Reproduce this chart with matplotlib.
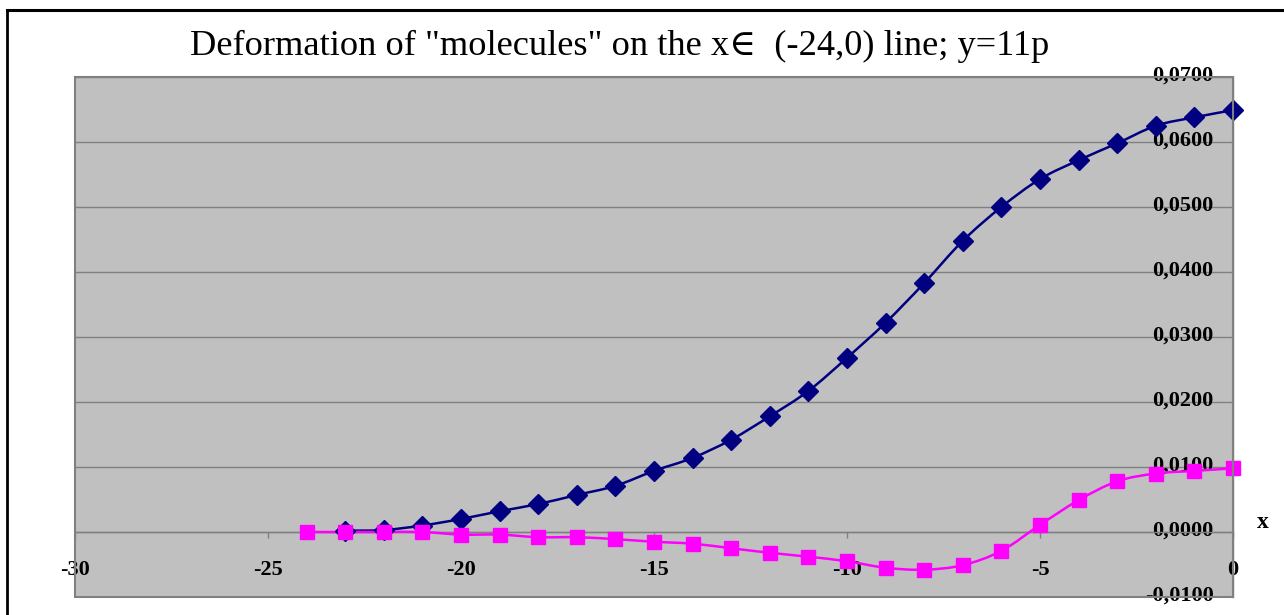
import matplotlib
matplotlib.use("Agg")
import matplotlib.pyplot as plt
import numpy as np
from matplotlib.path import Path
from matplotlib.patches import PathPatch, Rectangle
from matplotlib.lines import Line2D
import matplotlib.transforms as mtransforms

# ---- data ----
x_blue = [-23, -22, -21, -20, -19, -18, -17, -16, -15, -14, -13, -12, -11, -10,
          -9, -8, -7, -6, -5, -4, -3, -2, -1, 0]
y_blue = [0.0002, 0.0003, 0.0010, 0.0020, 0.0032, 0.0043, 0.0057, 0.0071, 0.0094,
          0.0114, 0.0142, 0.0178, 0.0217, 0.0268, 0.0322, 0.0383, 0.0448, 0.0500,
          0.0543, 0.0572, 0.0598, 0.0625, 0.0638, 0.0649]
x_pink = [-24, -23, -22, -21, -20, -19, -18, -17, -16, -15, -14, -13, -12, -11,
          -10, -9, -8, -7, -6, -5, -4, -3, -2, -1, 0]
y_pink = [0.0000, 0.0000, 0.0000, 0.0000, -0.0004, -0.0004, -0.0008, -0.0008,
          -0.0011, -0.0015, -0.0018, -0.0025, -0.0032, -0.0038, -0.0045, -0.0055,
          -0.0058, -0.0051, -0.0029, 0.0011, 0.0049, 0.0078, 0.0090, 0.0094, 0.0098]
x_ticks = [-30, -25, -20, -15, -10, -5, 0]
y_ticks = [-0.01, 0.0, 0.01, 0.02, 0.03, 0.04, 0.05, 0.06, 0.07]
y_tick_labels = ["-0,0100", "0,0000", "0,0100", "0,0200", "0,0300", "0,0400",
                 "0,0500", "0,0600", "0,0700"]
title = 'Deformation of "molecules" on the x\u2208  (-24,0) line; y=11p'

SERIF = ["Liberation Serif", "DejaVu Serif"]

W, H = 1284, 615
fig = plt.figure(figsize=(W / 100, H / 100), dpi=100)
fig.patch.set_facecolor("white")

L, R, T, B = 75, 1233, 77, 597
ax = fig.add_axes([L / W, (H - B) / H, (R - L) / W, (B - T) / H])
ax.set_facecolor("#c0c0c0")
ax.set_xlim(-30, 0)
ax.set_ylim(-0.01, 0.07)

for s in ["top", "right"]:
    ax.spines[s].set_visible(False)
ax.spines["bottom"].set_position(("data", 0))
ax.spines["left"].set_position(("data", 0))
for s in ["bottom", "left"]:
    ax.spines[s].set_color("#808080")
    ax.spines[s].set_linewidth(1.0)
ax.add_patch(Rectangle((0, 0), 1, 1, transform=ax.transAxes, fill=False,
                       edgecolor="#808080", linewidth=1.5, clip_on=False, zorder=5))

ax.set_yticks(y_ticks)
ax.set_yticklabels(y_tick_labels)
ax.set_xticks(x_ticks)
ax.set_xticklabels([str(v) for v in x_ticks])
ax.yaxis.grid(True, color="#808080", linewidth=1.0)
ax.set_axisbelow(True)
ax.tick_params(axis="y", length=0, pad=14, labelsize=16, labelcolor="black")
ax.tick_params(axis="x", direction="out", length=4, width=1, color="#808080",
               pad=16, labelsize=16, labelcolor="black")
shift_up = mtransforms.ScaledTranslation(0, 3 / 72, fig.dpi_scale_trans)
for lab in ax.get_xticklabels() + ax.get_yticklabels():
    lab.set_family(SERIF)
    lab.set_fontweight("bold")
for lab in ax.get_yticklabels():
    lab.set_transform(lab.get_transform() + shift_up)


def smooth_path(xs, ys):
    xs = np.asarray(xs, float)
    ys = np.asarray(ys, float)
    n = len(xs)
    verts = [(xs[0], ys[0])]
    codes = [Path.MOVETO]
    for i in range(n - 1):
        p0 = np.array([xs[max(i - 1, 0)], ys[max(i - 1, 0)]])
        p1 = np.array([xs[i], ys[i]])
        p2 = np.array([xs[i + 1], ys[i + 1]])
        p3 = np.array([xs[min(i + 2, n - 1)], ys[min(i + 2, n - 1)]])
        c1 = p1 + (p2 - p0) / 6.0
        c2 = p2 - (p3 - p1) / 6.0
        verts += [tuple(c1), tuple(c2), tuple(p2)]
        codes += [Path.CURVE4] * 3
    return Path(verts, codes)


ax.add_patch(PathPatch(smooth_path(x_blue, y_blue), fill=False,
                       edgecolor="#000080", linewidth=1.8, zorder=3))
ax.plot(x_blue, y_blue, linestyle="none", marker="D", markersize=10,
        color="#000080", zorder=4, clip_on=False)
ax.add_patch(PathPatch(smooth_path(x_pink, y_pink), fill=False,
                       edgecolor="#ff00ff", linewidth=1.8, zorder=3))
ax.plot(x_pink, y_pink, linestyle="none", marker="s", markersize=10,
        color="#ff00ff", zorder=4, clip_on=False)

fig.text(620 / W, 1 - 46 / H, title, ha="center", va="center",
         fontsize=26.2, family=SERIF, color="black")
fig.text(1263 / W, 1 - 523 / H, "x", ha="center", va="center",
         fontsize=17, fontweight="bold", family=SERIF, color="black")

# outer frame lines
fig.add_artist(Line2D([7 / W, 7 / W], [0, 1 - 10 / H], color="black", linewidth=2,
                      transform=fig.transFigure))
fig.add_artist(Line2D([7 / W, 1], [1 - 10 / H, 1 - 10 / H], color="black",
                      linewidth=2.2, transform=fig.transFigure))

fig.savefig("out.png", dpi=100)
